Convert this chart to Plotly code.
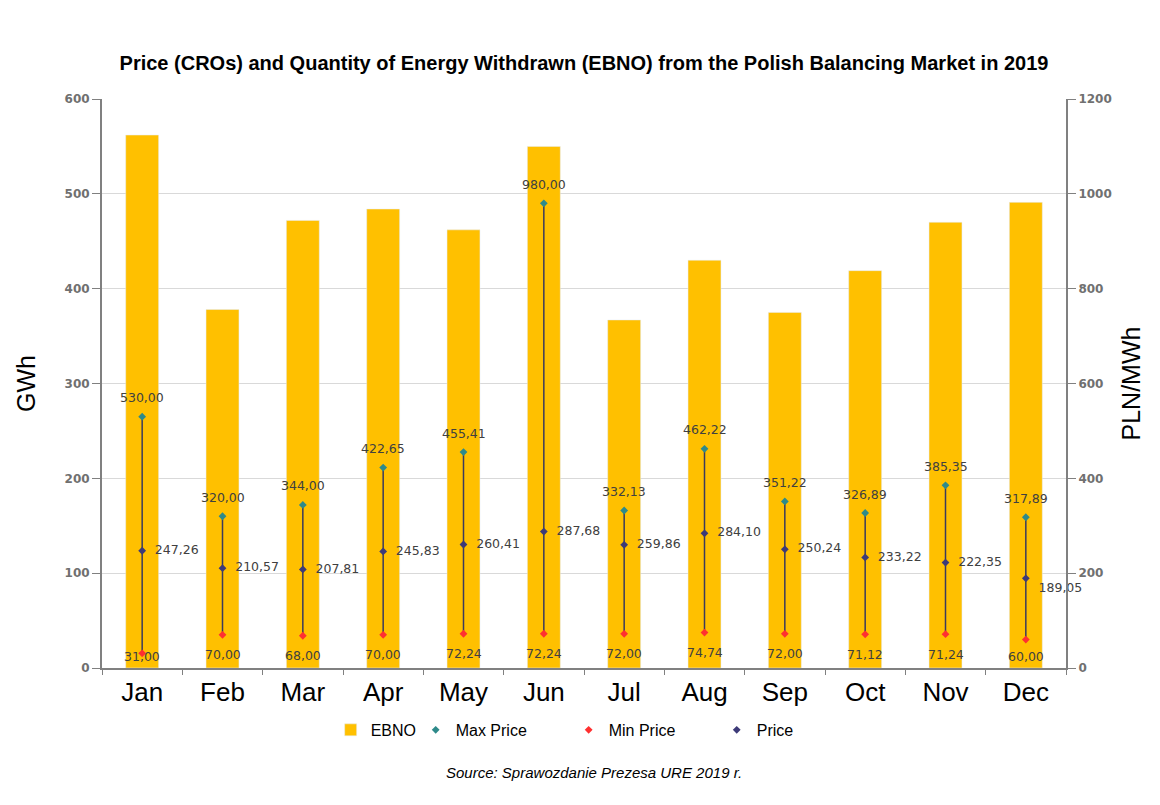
import plotly.graph_objects as go

months = ["Jan", "Feb", "Mar", "Apr", "May", "Jun", "Jul", "Aug", "Sep", "Oct", "Nov", "Dec"]
ebno = [562, 378, 472, 484, 462, 550, 367, 430, 375, 419, 470, 491]
max_price = [530.00, 320.00, 344.00, 422.65, 455.41, 980.00, 332.13, 462.22, 351.22, 326.89, 385.35, 317.89]
min_price = [31.00, 70.00, 68.00, 70.00, 72.24, 72.24, 72.00, 74.74, 72.00, 71.12, 71.24, 60.00]
price = [247.26, 210.57, 207.81, 245.83, 260.41, 287.68, 259.86, 284.10, 250.24, 233.22, 222.35, 189.05]


def pl(v):
    return f"{v:.2f}".replace(".", ",")


lab_font = dict(family="DejaVu Sans", size=12.5, color="#404040")
arial = "Liberation Sans, Arial"

fig = go.Figure()
fig.add_trace(go.Bar(x=months, y=ebno, name="EBNO", marker_color="#FFC000",
                     width=0.41, yaxis="y", legend="legend"))

# vertical range lines
lx, ly = [], []
for m, lo, hi in zip(months, min_price, max_price):
    lx += [m, m, None]
    ly += [lo, hi, None]
fig.add_trace(go.Scatter(x=lx, y=ly, mode="lines", line=dict(color="#3A3A5C", width=1.5),
                         yaxis="y2", showlegend=False, hoverinfo="skip"))

fig.add_trace(go.Scatter(x=months, y=max_price, name="Max Price", mode="markers",
                         marker=dict(symbol="diamond", size=6, color="#2E8A8A"),
                         yaxis="y2", cliponaxis=False, legend="legend2"))
fig.add_trace(go.Scatter(x=months, y=min_price, name="Min Price", mode="markers",
                         marker=dict(symbol="diamond", size=6, color="#FF3030"),
                         yaxis="y2", cliponaxis=False, legend="legend3"))
price_pos = ["middle right"] * (len(months) - 1) + ["bottom right"]
fig.add_trace(go.Scatter(x=months, y=price, name="Price", mode="markers+text",
                         marker=dict(symbol="diamond", size=6, color="#3D3A78"),
                         text=["  " + pl(v) for v in price], textposition=price_pos,
                         textfont=lab_font, yaxis="y2", cliponaxis=False, legend="legend4"))

annotations = []
for m, v in zip(months, max_price):
    annotations.append(dict(x=m, y=v, xref="x", yref="y2", text=pl(v), showarrow=False,
                            yshift=19, yanchor="middle", font=lab_font))
for m, v in zip(months, min_price):
    annotations.append(dict(x=m, y=max(v - 42, 24), xref="x", yref="y2", text=pl(v), showarrow=False,
                            yanchor="middle", font=lab_font))
annotations.append(dict(text="<i>Source: Sprawozdanie Prezesa URE 2019 r.</i>", xref="paper", yref="paper",
                        x=0.51, y=-0.183, xanchor="center", yanchor="middle", showarrow=False,
                        font=dict(family=arial, size=15, color="black")))

tick_font = dict(family="DejaVu Sans", size=12, color="#707070", weight="bold")


def leg(x):
    return dict(orientation="h", x=x, xanchor="left", y=-0.079, yanchor="top",
                font=dict(family=arial, size=16, color="black"), itemsizing="trace",
                bgcolor="rgba(0,0,0,0)")


fig.update_layout(
    width=1152, height=797,
    paper_bgcolor="white", plot_bgcolor="white",
    margin=dict(l=94, r=94, t=91, b=137),
    title=dict(text="<b>Price (CROs) and Quantity of Energy Withdrawn (EBNO) from the Polish Balancing Market in 2019</b>",
               x=0.5, xanchor="center", y=0.931, yanchor="middle",
               font=dict(family=arial, size=20, color="black")),
    xaxis=dict(type="category", range=[-0.5, 11.5], showline=True, linecolor="#808080", linewidth=2,
               ticks="outside", tickson="boundaries", ticklen=5, tickcolor="#808080",
               tickfont=dict(family=arial, size=26, color="black"), showgrid=False),
    yaxis=dict(range=[0, 600], dtick=100, showline=True, linecolor="#808080", linewidth=2,
               ticks="outside", ticklen=8, tickcolor="#808080", tickfont=tick_font,
               gridcolor="#D9D9D9", gridwidth=1, zeroline=False,
               title=dict(text="GWh", font=dict(family=arial, size=25, color="black"),
                          standoff=22)),
    yaxis2=dict(range=[0, 1200], dtick=200, overlaying="y", side="right", showline=True,
                linecolor="#808080", linewidth=2, ticks="outside", ticklen=8, tickcolor="#808080",
                tickfont=tick_font, showgrid=False, zeroline=False,
                title=dict(text="PLN/MWh", font=dict(family=arial, size=25, color="black"),
                           standoff=12)),
    legend=leg(0.2372),
    legend2=leg(0.3254),
    legend3=leg(0.4841),
    legend4=leg(0.6377),
    bargap=0.5,
    annotations=annotations,
)

fig.write_html("out.html")
